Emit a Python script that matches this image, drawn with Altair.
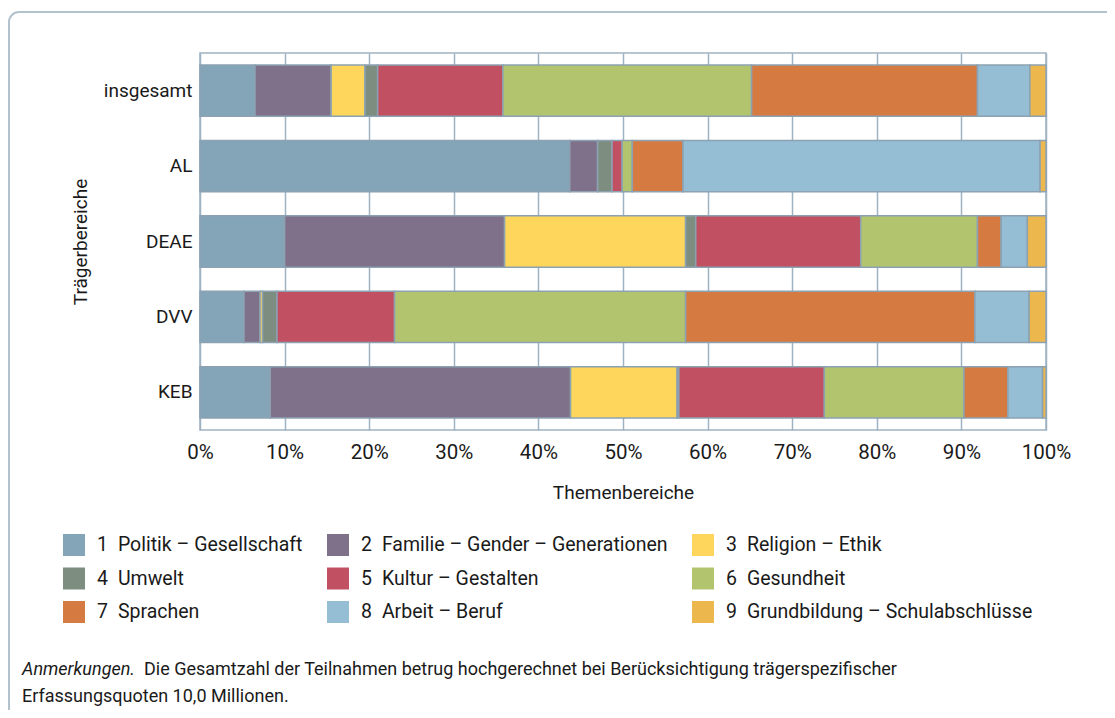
import altair as alt
import pandas as pd

# ---- data ----
groups = ["insgesamt", "AL", "DEAE", "DVV", "KEB"]
themes = [
    "1\u2002Politik – Gesellschaft",
    "2\u2002Familie – Gender – Generationen",
    "3\u2002Religion – Ethik",
    "4\u2002Umwelt",
    "5\u2002Kultur – Gestalten",
    "6\u2002Gesundheit",
    "7\u2002Sprachen",
    "8\u2002Arbeit – Beruf",
    "9\u2002Grundbildung – Schulabschlüsse",
]
colors = ["#84a5b8", "#80718a", "#fdd65b", "#7d8d80", "#c05062",
          "#b2c56e", "#d57b42", "#95bdd3", "#ecb74c"]

insgesamt = [6.5, 9.0, 4.0, 1.5, 14.8, 29.4, 26.7, 6.2, 1.9]
al        = [43.7, 3.3, 0.0, 1.7, 1.2, 1.2, 6.0, 42.2, 0.7]
deae      = [10.0, 26.0, 21.4, 1.2, 19.5, 13.8, 2.8, 3.1, 2.2]
dvv       = [5.2, 1.9, 0.3, 1.7, 13.9, 34.4, 34.2, 6.4, 2.0]
keb       = [8.3, 35.5, 12.6, 0.2, 17.2, 16.5, 5.2, 4.1, 0.4]

x_ticks = [0, 10, 20, 30, 40, 50, 60, 70, 80, 90, 100]

note_italic = "Anmerkungen."
note_line1 = "Die Gesamtzahl der Teilnahmen betrug hochgerechnet bei Berücksichtigung trägerspezifischer"
note_line2 = "Erfassungsquoten 10,0 Millionen."

# ---- table ----
rows = []
for g, vals in zip(groups, [insgesamt, al, deae, dvv, keb]):
    for i, (t, v) in enumerate(zip(themes, vals)):
        rows.append({"Träger": g, "Thema": t, "Nr": i + 1, "Anteil": v})
df = pd.DataFrame(rows)

FONT = "Roboto"
TXT = "#1a1a1a"
GRID = "#9fb2c1"

bars = alt.Chart(df).mark_bar(stroke="#8ca2b2", strokeWidth=1.5).encode(
    x=alt.X("Anteil:Q", stack="zero",
            scale=alt.Scale(domain=[0, 100], nice=False),
            axis=alt.Axis(title="Themenbereiche", values=x_ticks,
                          labelExpr="datum.value + '%'",
                          grid=True, gridColor=GRID, gridWidth=1.5,
                          domain=False, ticks=False, tickSize=0,
                          labelFlush=False,
                          labelPadding=22, labelBaseline="middle",
                          labelFontSize=20.5, labelColor=TXT, labelFont=FONT,
                          titleFontSize=19, titleFontWeight="normal",
                          titleColor=TXT, titleFont=FONT,
                          titleY=62, titleBaseline="middle")),
    y=alt.Y("Träger:N", sort=groups,
            scale=alt.Scale(paddingInner=0.32, paddingOuter=0.16),
            axis=alt.Axis(title="Trägerbereiche", domain=False, ticks=False,
                          tickSize=0, labelPadding=8, grid=False,
                          labelFontSize=19, labelColor=TXT, labelFont=FONT,
                          titleFontSize=19, titleFontWeight="normal",
                          titleColor=TXT, titleFont=FONT,
                          titleX=-120, titleY=188.5, titleAngle=270,
                          titleAlign="center", titleBaseline="middle")),
    color=alt.Color("Thema:N", sort=themes,
                    scale=alt.Scale(domain=themes, range=colors),
                    legend=alt.Legend(title=None, orient="none",
                                      direction="horizontal",
                                      legendX=-137, legendY=481,
                                      columns=3, columnPadding=24,
                                      rowPadding=11.5, padding=0,
                                      symbolType="square", symbolSize=484,
                                      symbolStrokeWidth=0, symbolOpacity=1,
                                      labelOffset=12, labelFontSize=19.5,
                                      labelFont=FONT, labelColor=TXT,
                                      labelLimit=400)),
    order=alt.Order("Nr:Q"),
)

frame = alt.Chart(alt.Data(values=[{"k": 1}])).mark_rect(
    fillOpacity=0, stroke="#b3c3ce", strokeWidth=2, cornerRadius=10
).encode(x=alt.value(-191), x2=alt.value(960),
         y=alt.value(-41), y2=alt.value(720))

n1 = alt.Chart(alt.Data(values=[{"t": note_italic}])).mark_text(
    align="left", baseline="middle", fontSize=18, font=FONT,
    fontStyle="italic", color=TXT
).encode(text="t:N", x=alt.value(-178), y=alt.value(617))

n2 = alt.Chart(alt.Data(values=[{"t": note_line1}])).mark_text(
    align="left", baseline="middle", fontSize=18, font=FONT, color=TXT
).encode(text="t:N", x=alt.value(-56), y=alt.value(617))

n3 = alt.Chart(alt.Data(values=[{"t": note_line2}])).mark_text(
    align="left", baseline="middle", fontSize=18, font=FONT, color=TXT
).encode(text="t:N", x=alt.value(-178), y=alt.value(644))

chart = alt.layer(frame, bars, n1, n2, n3).properties(
    width=846, height=377,
    autosize=alt.AutoSizeParams(type="none"),
    padding={"left": 192, "top": 45, "right": 61, "bottom": 280},
).configure_view(stroke=GRID, strokeWidth=1.5)

chart.save("out.html", embed_options={"renderer": "svg", "actions": False})
